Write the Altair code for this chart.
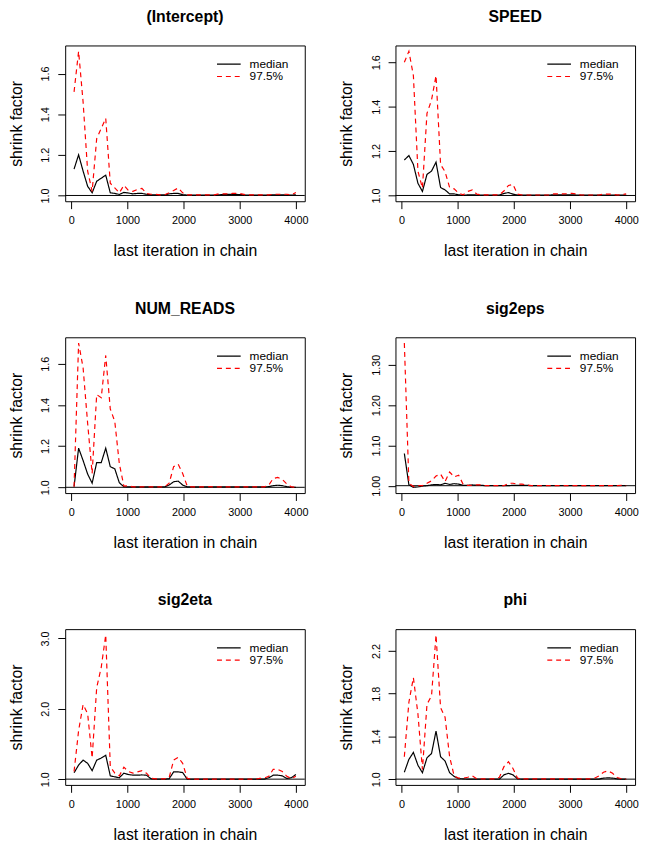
import altair as alt
import pandas as pd

FONT = "Liberation Sans, Arial, Helvetica, sans-serif"

ITER = [50, 131, 211, 292, 372, 453, 534, 614, 695, 775,
        856, 937, 1017, 1098, 1178, 1259, 1340, 1420, 1501, 1581,
        1662, 1743, 1823, 1904, 1984, 2065, 2146, 2226, 2307, 2387,
        2468, 2549, 2629, 2710, 2790, 2871, 2952, 3032, 3113, 3193,
        3274, 3355, 3435, 3516, 3596, 3677, 3758, 3838, 3919, 4000]

SERIES = ["median", "97.5%"]
SERIES_COLORS = ["black", "red"]
SERIES_DASH = [[1, 0], [5, 4]]

INTERCEPT_MED = [1.13, 1.20, 1.12, 1.045, 1.013, 1.07, 1.085, 1.10, 1.013, 1.01,
                 1.005, 1.015, 1.012, 1.008, 1.01, 1.01, 1.006, 1.003, 1.003, 1.003,
                 1.003, 1.008, 1.01, 1.01, 1.004, 1.002, 1.002, 1.002, 1.002, 1.002,
                 1.002, 1.002, 1.003, 1.005, 1.005, 1.005, 1.005, 1.004, 1.002, 1.002,
                 1.002, 1.002, 1.002, 1.002, 1.003, 1.003, 1.003, 1.002, 1.002, 1.003]
INTERCEPT_UPR = [1.51, 1.71, 1.46, 1.12, 1.02, 1.28, 1.33, 1.38, 1.06, 1.037,
                 1.013, 1.05, 1.025, 1.02, 1.03, 1.035, 1.01, 1.006, 1.006, 1.003,
                 1.003, 1.013, 1.024, 1.037, 1.013, 1.003, 1.003, 1.003, 1.003, 1.003,
                 1.003, 1.003, 1.008, 1.008, 1.008, 1.01, 1.01, 1.008, 1.003, 1.003,
                 1.003, 1.003, 1.003, 1.003, 1.006, 1.006, 1.006, 1.006, 1.003, 1.015]

SPEED_MED = [1.16, 1.18, 1.14, 1.055, 1.018, 1.095, 1.11, 1.15, 1.036, 1.025,
             1.007, 1.007, 1.003, 1.0, 1.003, 1.003, 1.002, 1.002, 1.002, 1.002,
             1.002, 1.002, 1.009, 1.013, 1.006, 1.002, 1.002, 1.002, 1.002, 1.002,
             1.002, 1.002, 1.002, 1.003, 1.003, 1.003, 1.003, 1.003, 1.002, 1.002,
             1.002, 1.002, 1.002, 1.002, 1.002, 1.002, 1.002, 1.002, 1.002, 1.002]
SPEED_UPR = [1.60, 1.65, 1.54, 1.11, 1.033, 1.37, 1.43, 1.54, 1.14, 1.107,
             1.036, 1.03, 1.01, 1.003, 1.018, 1.025, 1.006, 1.003, 1.003, 1.003,
             1.003, 1.003, 1.02, 1.045, 1.05, 1.006, 1.002, 1.002, 1.002, 1.002,
             1.002, 1.002, 1.002, 1.007, 1.007, 1.007, 1.008, 1.01, 1.007, 1.002,
             1.002, 1.002, 1.002, 1.002, 1.006, 1.006, 1.006, 1.002, 1.003, 1.007]

NUM_READS_MED = [1.003, 1.19, 1.13, 1.064, 1.02, 1.12, 1.12, 1.19, 1.10, 1.09,
                 1.022, 1.003, 1.002, 1.002, 1.002, 1.002, 1.002, 1.002, 1.002, 1.002,
                 1.002, 1.011, 1.027, 1.03, 1.011, 1.002, 1.002, 1.002, 1.002, 1.002,
                 1.002, 1.002, 1.002, 1.002, 1.002, 1.002, 1.002, 1.002, 1.002, 1.002,
                 1.002, 1.002, 1.002, 1.003, 1.008, 1.01, 1.008, 1.003, 1.0, 1.0]
NUM_READS_UPR = [1.003, 1.70, 1.58, 1.31, 1.067, 1.45, 1.435, 1.64, 1.38, 1.32,
                 1.115, 1.006, 1.008, 1.002, 1.002, 1.002, 1.003, 1.002, 1.002, 1.002,
                 1.002, 1.02, 1.10, 1.112, 1.067, 1.006, 1.002, 1.002, 1.002, 1.002,
                 1.003, 1.002, 1.002, 1.002, 1.002, 1.002, 1.002, 1.002, 1.002, 1.002,
                 1.002, 1.002, 1.002, 1.01, 1.043, 1.048, 1.038, 1.016, 1.002, 1.0]

SIG2EPS_MED = [1.08, 1.002, 0.996, 0.997, 0.999, 1.0, 1.002, 1.003, 1.002, 1.006,
               1.003, 1.005, 1.004, 1.001, 1.001, 1.002, 1.001, 1.001, 1.0, 1.0,
               1.0, 1.0, 1.0, 1.0, 1.001, 1.001, 1.001, 1.001, 1.0, 1.0,
               1.0, 1.0, 1.0, 1.0, 1.0, 1.0, 1.0, 1.0, 1.0, 1.0,
               1.0, 1.0, 1.0, 1.0, 1.0, 1.0, 1.0, 1.0, 1.0, 1.0]
SIG2EPS_UPR = [1.354, 1.006, 0.998, 1.0, 1.0, 1.006, 1.012, 1.024, 1.029, 1.01,
               1.034, 1.022, 1.026, 1.003, 1.001, 1.001, 1.002, 1.002, 1.0, 1.0,
               1.0, 1.0, 1.0, 1.006, 1.006, 1.004, 1.004, 1.002, 1.0, 1.0,
               1.0, 1.0, 1.0, 1.0, 1.0, 1.0, 1.0, 1.0, 1.0, 1.0,
               1.0, 1.0, 1.0, 1.0, 1.0, 1.0, 1.0, 1.0, 1.001, 1.0]

SIG2ETA_MED = [1.09, 1.20, 1.27, 1.225, 1.12, 1.27, 1.30, 1.34, 1.047, 1.033,
               1.02, 1.085, 1.066, 1.056, 1.056, 1.06, 1.056, 1.005, 1.0, 1.0,
               1.0, 1.005, 1.103, 1.103, 1.094, 1.0, 1.0, 1.0, 1.0, 1.0,
               1.0, 1.0, 1.0, 1.0, 1.0, 1.0, 1.0, 1.0, 1.0, 1.0,
               1.0, 1.0, 1.0, 1.02, 1.056, 1.056, 1.047, 1.01, 1.02, 1.066]
SIG2ETA_UPR = [1.108, 1.69, 2.06, 1.93, 1.30, 2.30, 2.59, 3.05, 1.18, 1.085,
               1.047, 1.17, 1.108, 1.085, 1.103, 1.122, 1.085, 1.014, 1.005, 1.005,
               1.005, 1.02, 1.27, 1.31, 1.225, 1.01, 1.0, 1.0, 1.0, 1.0,
               1.0, 1.0, 1.0, 1.0, 1.0, 1.0, 1.0, 1.0, 1.0, 1.0,
               1.0, 1.01, 1.014, 1.04, 1.14, 1.14, 1.108, 1.04, 1.01, 1.04]

PHI_MED = [1.065, 1.185, 1.25, 1.13, 1.06, 1.20, 1.24, 1.45, 1.21, 1.17,
           1.06, 1.025, 1.005, 1.003, 1.0, 1.0, 1.0, 1.0, 1.0, 1.0,
           1.0, 1.0, 1.04, 1.055, 1.04, 1.003, 1.0, 1.0, 1.0, 1.0,
           1.0, 1.0, 1.0, 1.0, 1.0, 1.0, 1.0, 1.0, 1.0, 1.0,
           1.0, 1.0, 1.0, 1.0, 1.01, 1.012, 1.01, 1.003, 1.0, 1.0]
PHI_UPR = [1.21, 1.72, 1.95, 1.61, 1.09, 1.70, 1.78, 2.35, 1.67, 1.58,
           1.21, 1.03, 1.009, 1.009, 1.018, 1.03, 1.003, 1.003, 1.003, 1.003,
           1.003, 1.018, 1.117, 1.163, 1.10, 1.009, 1.003, 1.003, 1.003, 1.003,
           1.003, 1.003, 1.003, 1.003, 1.003, 1.003, 1.003, 1.003, 1.003, 1.003,
           1.003, 1.003, 1.009, 1.03, 1.065, 1.077, 1.055, 1.015, 1.003, 1.0]

X_TICKS = [0, 1000, 2000, 3000, 4000]

TICKS_A = [1.0, 1.1, 1.2, 1.3, 1.4, 1.5, 1.6, 1.7]
LABELS_A = ["1.0", "1.2", "1.4", "1.6"]
TICKS_EPS = [1.0, 1.05, 1.1, 1.15, 1.2, 1.25, 1.3, 1.35]
LABELS_EPS = ["1.00", "1.10", "1.20", "1.30"]
TICKS_ETA = [1.0, 1.5, 2.0, 2.5, 3.0]
LABELS_ETA = ["1.0", "1.5", "2.0", "2.5", "3.0"]
TICKS_PHI = [1.0, 1.2, 1.4, 1.6, 1.8, 2.0, 2.2, 2.4]
LABELS_PHI = ["1.0", "1.4", "1.8", "2.2"]

PANELS = [
    ("(Intercept)", INTERCEPT_MED, INTERCEPT_UPR, TICKS_A, LABELS_A, ".1f"),
    ("SPEED", SPEED_MED, SPEED_UPR, TICKS_A, LABELS_A, ".1f"),
    ("NUM_READS", NUM_READS_MED, NUM_READS_UPR, TICKS_A, LABELS_A, ".1f"),
    ("sig2eps", SIG2EPS_MED, SIG2EPS_UPR, TICKS_EPS, LABELS_EPS, ".2f"),
    ("sig2eta", SIG2ETA_MED, SIG2ETA_UPR, TICKS_ETA, LABELS_ETA, ".1f"),
    ("phi", PHI_MED, PHI_UPR, TICKS_PHI, LABELS_PHI, ".1f"),
]

W, H = 243, 158
# in-panel key placement (pixels from the panel's top-left corner)
KEY_X0, KEY_X1, KEY_TX = 154, 178, 187
KEY_Y = [19, 31.5]


def key_layers():
    one = alt.Chart(pd.DataFrame({"k": [0]}))
    out = []
    for i, name in enumerate(SERIES):
        out.append(one.mark_rule(strokeWidth=1.2, strokeDash=SERIES_DASH[i],
                                 color=SERIES_COLORS[i]).encode(
            x=alt.value(KEY_X0), x2=alt.value(KEY_X1), y=alt.value(KEY_Y[i])))
        out.append(one.mark_text(font=FONT, fontSize=12, color="black", align="left",
                                 baseline="middle").encode(
            x=alt.value(KEY_TX), y=alt.value(KEY_Y[i]), text=alt.value(name)))
    return out


def panel(idx, title, med, upr, ticks, labels, fmt):
    key = "s%d" % idx
    df = pd.DataFrame({
        "iter": ITER + ITER,
        "value": med + upr,
        key: [SERIES[0]] * len(ITER) + [SERIES[1]] * len(ITER),
    })
    allv = med + upr
    lo, hi = min(1.0, min(allv)), max(allv)
    pad = 0.04 * (hi - lo)
    xlo, xhi = min(ITER), max(ITER)
    xpad = 0.04 * (xhi - xlo)
    ticks_in = [t for t in ticks if lo - pad - 1e-9 <= t <= hi + pad + 1e-9]
    lab_arr = "[" + ",".join("'%s'" % s for s in labels) + "]"
    lines = alt.Chart(df).mark_line(clip=True, strokeWidth=1.2).encode(
        x=alt.X("iter:Q",
                scale=alt.Scale(domain=[xlo - xpad, xhi + xpad], nice=False, zero=False),
                axis=alt.Axis(values=X_TICKS, format="d", title="last iteration in chain",
                              grid=False, domain=False,
                              labelFont=FONT, labelFontSize=11, labelColor="black",
                              tickColor="black", tickSize=7.5, tickWidth=1,
                              labelPadding=6, labelBaseline="top", labelOverlap=False,
                              labelFlush=False,
                              titleFont=FONT, titleFontSize=16, titleFontWeight="normal",
                              titleColor="black",
                              titleX=W / 2, titleY=55.5, titleAlign="center",
                              titleBaseline="alphabetic")),
        y=alt.Y("value:Q",
                scale=alt.Scale(domain=[lo - pad, hi + pad], nice=False, zero=False),
                axis=alt.Axis(values=ticks_in, format=fmt, grid=False, domain=False,
                              labelExpr="indexof(" + lab_arr + ", datum.label) >= 0 ? datum.label : ''",
                              labelFont=FONT, labelFontSize=11, labelColor="black",
                              tickColor="black", tickSize=7.5, tickWidth=1,
                              labelAngle=270, labelAlign="center", labelBaseline="alphabetic",
                              labelPadding=9, labelOverlap=False, labelFlush=False,
                              title="shrink factor",
                              titleFont=FONT, titleFontSize=16, titleFontWeight="normal",
                              titleColor="black",
                              titleAngle=270, titleX=-44.5, titleY=H / 2,
                              titleAlign="center", titleBaseline="alphabetic")),
        color=alt.Color(key + ":N", scale=alt.Scale(domain=SERIES, range=SERIES_COLORS),
                        legend=None),
        strokeDash=alt.StrokeDash(key + ":N",
                                  scale=alt.Scale(domain=SERIES, range=SERIES_DASH),
                                  legend=None),
        order=alt.Order("iter:Q"),
    )
    ref = alt.Chart(pd.DataFrame({"ref": [1.0]})).mark_rule(
        color="black", strokeWidth=1).encode(y=alt.datum(1.0))
    return alt.layer(ref, lines, *key_layers()).properties(
        width=W, height=H,
        title=alt.TitleParams(title, font=FONT, fontSize=16, fontWeight="bold",
                              color="black", anchor="middle", baseline="alphabetic",
                              offset=8),
    )


charts = [panel(i, *p) for i, p in enumerate(PANELS)]

chart = (
    alt.concat(*charts, columns=2, spacing={"row": 41, "column": 30})
    .resolve_scale(color="independent", strokeDash="independent", y="independent", x="independent")
    .properties(padding={"left": 0, "top": -6, "right": 0, "bottom": 0})
    .configure_view(stroke="black", strokeWidth=1)
    .configure_axis(grid=False, domain=False)
)

chart.save("out.html", embed_options={"renderer": "svg", "actions": False})
